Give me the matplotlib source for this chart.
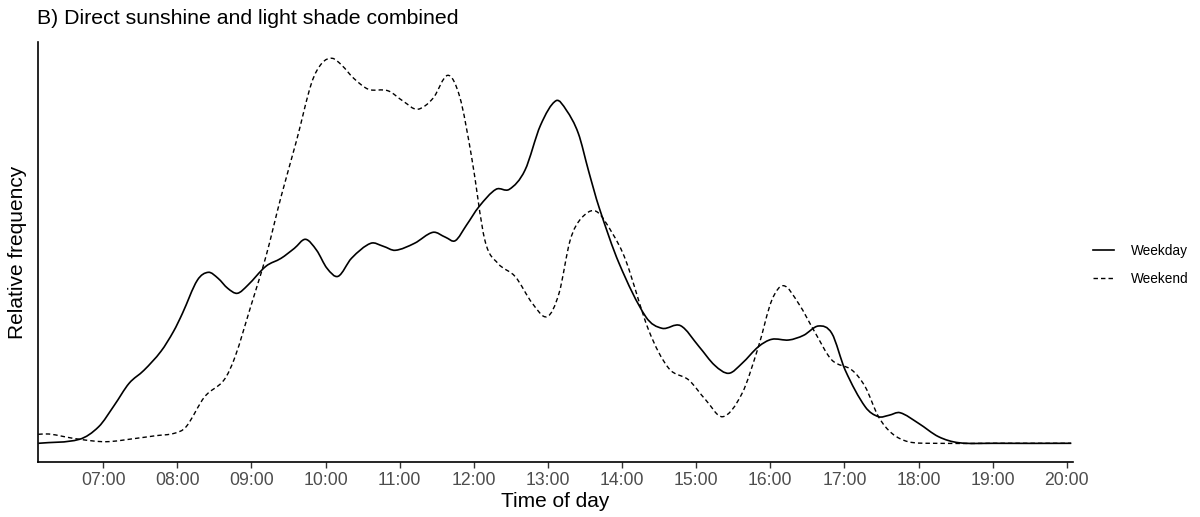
import matplotlib
matplotlib.use("Agg")
import numpy as np
import matplotlib.pyplot as plt
from matplotlib.lines import Line2D
from matplotlib.path import Path
from matplotlib.patches import PathPatch

plt.rcParams['font.family'] = ['Liberation Sans', 'DejaVu Sans']

# Time of day (hours) and relative frequency (arbitrary units)
weekday_hours = [6.125, 6.68, 6.94, 7.15, 7.35, 7.55, 7.78, 7.95, 8.07, 8.27, 8.42, 8.55,
                 8.68, 8.81, 8.95, 9.195, 9.40, 9.58, 9.73, 9.88, 10.02, 10.17, 10.35,
                 10.61, 10.78, 10.94, 11.2, 11.45, 11.62, 11.75, 11.9, 12.07, 12.30,
                 12.48, 12.69, 12.9, 13.11, 13.25, 13.41, 13.55, 13.69, 13.96, 14.32, 14.54,
                 14.79, 15.04, 15.25, 15.44, 15.62, 15.84, 16.02, 16.25, 16.45, 16.65,
                 16.83, 17.01, 17.28, 17.46, 17.6, 17.75, 18.0, 18.27, 18.54, 19.0, 20.06]
weekday_freq = [0, 4, 16.6, 38, 60, 73, 92, 112, 130, 163, 171, 165,
                155, 150, 158, 177, 185, 195, 204, 193, 175, 167, 185,
                200, 197, 193, 200, 211, 206, 202.6, 218, 236.6, 254,
                254, 273, 318, 342.6, 333, 310, 272, 236, 180, 126.6, 115,
                117.6, 96.6, 78, 70, 80, 96.6, 104, 103.3, 108, 117.3,
                110, 73.3, 36.6, 26.6, 28, 30.6, 20, 6.6, 0.6, 0, 0]

weekend_hours = [6.125, 6.27, 6.45, 6.68, 7.04, 7.45, 7.71, 7.96, 8.12, 8.37, 8.63, 8.78,
                 8.99, 9.195, 9.40, 9.61, 9.81, 9.95, 10.09, 10.22, 10.38, 10.58, 10.84,
                 11.05, 11.24, 11.45, 11.65, 11.81, 11.97, 12.15, 12.325, 12.56, 12.79,
                 12.99, 13.15, 13.30, 13.45, 13.65, 13.87, 14.05, 14.36, 14.63, 14.90,
                 15.13, 15.36, 15.62, 15.84, 16.02, 16.18, 16.38, 16.61, 16.83, 17.10,
                 17.28, 17.46, 17.64, 17.86, 18.18, 19.0, 20.06]
weekend_freq = [9, 9.3, 7, 4, 1.6, 5, 7.6, 10, 16.6, 46.6, 63.3, 86.6,
                136.6, 186.6, 246.6, 303, 360, 380, 385, 378, 365, 354, 352.6,
                342, 334, 345, 368, 346.6, 286.6, 203, 180, 166.6, 140,
                126.6, 150, 203, 225, 232, 210, 183, 113, 75, 63.3,
                43.3, 26.6, 50, 96.6, 143, 157.6, 140, 110, 83.3, 73.3,
                56.6, 26.6, 10, 1.6, 0, 0, 0]

tick_hours = list(range(7, 21))
tick_labels = [f"{h:02d}:00" for h in tick_hours]


def smooth_path(xs, ys):
    """Bezier path passing through every read point (Hermite tangents)."""
    x = np.asarray(xs, float)
    y = np.asarray(ys, float)
    n = len(x)
    m = np.zeros(n)
    m[1:-1] = (y[2:] - y[:-2]) / (x[2:] - x[:-2])
    m[0] = (y[1] - y[0]) / (x[1] - x[0])
    m[-1] = (y[-1] - y[-2]) / (x[-1] - x[-2])
    verts = [(x[0], y[0])]
    codes = [Path.MOVETO]
    for i in range(n - 1):
        dx = (x[i + 1] - x[i]) / 3.0
        verts += [(x[i] + dx, y[i] + m[i] * dx),
                  (x[i + 1] - dx, y[i + 1] - m[i + 1] * dx),
                  (x[i + 1], y[i + 1])]
        codes += [Path.CURVE4] * 3
    return Path(verts, codes)


fig = plt.figure(figsize=(12, 5.17), dpi=100)
ax = fig.add_axes([38.3 / 1200, 1 - 462.3 / 517, (1072.7 - 38.3) / 1200, (462.3 - 42) / 517])

dash = (0, (3.2, 2.2))
ax.add_patch(PathPatch(smooth_path(weekday_hours, weekday_freq), fill=False,
                       edgecolor='black', lw=1.2, joinstyle='round', capstyle='butt'))
ax.add_patch(PathPatch(smooth_path(weekend_hours, weekend_freq), fill=False,
                       edgecolor='black', lw=1.0, linestyle=dash, capstyle='butt'))

ax.set_xlim(6.125, 20.08)
ax.set_ylim(-19, 401.3)

ax.set_xticks(tick_hours)
ax.set_xticklabels(tick_labels, color='#4D4D4D', fontsize=12.7)
ax.tick_params(axis='x', length=4, width=1, color='#333333', pad=3)
ax.set_yticks([])

for s in ['top', 'right']:
    ax.spines[s].set_visible(False)
for s in ['left', 'bottom']:
    ax.spines[s].set_linewidth(1.2)
    ax.spines[s].set_color('black')

ax.set_xlabel('Time of day', fontsize=15, labelpad=2)
ax.set_ylabel('Relative frequency', fontsize=15, labelpad=8)

fig.text(36.7 / 1200, 1 - 18 / 517, 'B) Direct sunshine and light shade combined',
         fontsize=15.3, ha='left', va='center')

handles = [Line2D([], [], color='black', lw=1.2),
           Line2D([], [], color='black', lw=1.0, linestyle=dash)]
fig.legend(handles, ['Weekday', 'Weekend'], loc='center left',
           bbox_to_anchor=(1081 / 1200, 1 - 265 / 517), frameon=False,
           fontsize=9.8, handlelength=1.55, handletextpad=1.25, labelspacing=1.0)

fig.savefig('out.png', dpi=100)
